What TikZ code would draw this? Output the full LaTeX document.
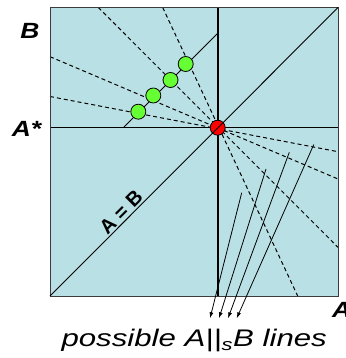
\documentclass[tikz,border=0pt]{standalone}
\usepackage{fontspec}
\setmainfont{Liberation Sans}
\usetikzlibrary{arrows.meta,calc}
\definecolor{planefill}{RGB}{185,224,228}
\definecolor{planeedge}{RGB}{60,60,60}
\definecolor{dotgreen}{RGB}{102,255,51}
\definecolor{dotred}{RGB}{255,0,0}

\begin{document}
\begin{tikzpicture}[x=1pt, y=-1pt,
  axisline/.style={line width=1.6pt, black},
  diag/.style={line width=0.9pt, black},
  dline/.style={line width=1pt, black, dash pattern=on 4pt off 3pt},
  arr/.style={-{Latex[length=6pt, width=4pt]}, line width=0.8pt, black},
  gdot/.style={circle, draw=black, line width=0.8pt, fill=dotgreen, minimum size=15pt, inner sep=0pt},
  rdot/.style={circle, draw=black, line width=0.8pt, fill=dotred, minimum size=15pt, inner sep=0pt},
  axlabel/.style={font=\fontsize{22}{26}\selectfont\bfseries\itshape, inner sep=0pt, xscale=1.2}
]
\useasboundingbox (0,0) rectangle (345,358);

% ================= PLANE =================
\coordinate (sw) at (50,296);
\coordinate (ne) at (338,7.5);
\fill[planefill] (sw) rectangle (ne);

% --- dashed lines through the red point ---
\coordinate (u1) at (50,96.5);   \coordinate (d1) at (338,151.7);
\coordinate (u2) at (50,56.7);   \coordinate (d2) at (338,179);
\coordinate (u3) at (98.3,7.5);  \coordinate (d3) at (338,247.3);
\coordinate (u4) at (162.7,7.5); \coordinate (d4) at (297.7,296);
\foreach \i in {1,...,4}{
  \draw[dline] (u\i) -- (d\i);
}

% --- A = B line shifted ---
\coordinate (p1) at (123.3,127.7);
\coordinate (p2) at (217.7,33.3);
\draw[diag] (p1) -- (p2);

% --- cross at A* ---
\draw[axisline] (50,127.7) -- (338,127.7);
\draw[axisline] (217.7,7.5) -- (217.7,296);
\draw[line width=1pt, planeedge] (sw) rectangle (ne);

% --- points ---
\node[gdot] (g1) at (138.3,111.7) {};
\node[gdot] (g2) at (153.3,95.5) {};
\node[gdot] (g3) at (170.5,80) {};
\node[gdot] (g4) at (185.7,64) {};
\node[rdot] (star) at (217.7,127.7) {};

% --- main diagonal ---
\draw[diag] (sw) -- (ne);
\node[font=\fontsize{20}{24}\selectfont\bfseries, rotate=45, anchor=south, inner sep=2pt] (lblAeqB) at (127.5,218.5) {A = B};

% --- possible lines ---
\coordinate (s1) at (313.8,144.5); \coordinate (t1) at (236.7,318.3);
\coordinate (s2) at (289.3,152.3); \coordinate (t2) at (228,318.3);
\coordinate (s3) at (266,169);     \coordinate (t3) at (219,318.3);
\coordinate (s4) at (241.7,192.7); \coordinate (t4) at (210,318.3);
\foreach \i in {1,...,4}{
  \draw[arr] (s\i) -- (t\i);
}

% ================= LABELS =================
\node[axlabel, anchor=base] (lblB) at (30,38.3) {B};
\node[axlabel, anchor=base] (lblAstar) at (26.5,136) {A*};
\node[axlabel, anchor=base west] (lblA) at (332,317) {A};
\node[font=\fontsize{24}{28}\selectfont\itshape, anchor=base, inner sep=0pt, xscale=1.3] (caption) at (194.2,346.7) {possible A||\textsubscript{s}B lines};
\end{tikzpicture}
\end{document}
